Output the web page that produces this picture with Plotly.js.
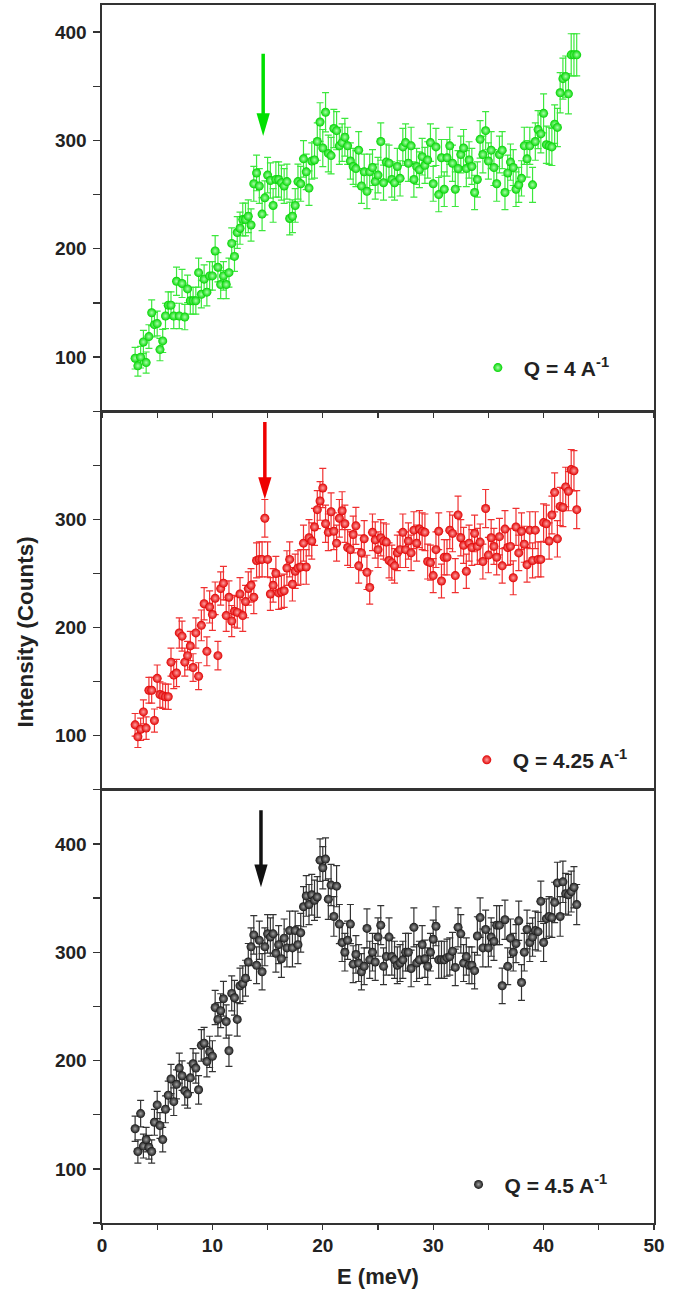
<!DOCTYPE html>
<html>
<head>
<meta charset="utf-8">
<script src="https://cdn.plot.ly/plotly-3.0.1.min.js"></script>
<style>html,body{margin:0;padding:0;background:#fff;}#chart{width:684px;height:1292px;}</style>
</head>
<body>
<div id="chart"></div>
<script>
// Energy transfer (meV)
const energy = [3,3.25,3.5,3.75,4,4.25,4.5,4.75,5,5.25,5.5,5.75,6,6.25,6.5,6.75,7,7.25,7.5,7.75,8,8.25,8.5,8.75,9,9.25,9.5,9.75,10,10.25,10.5,10.75,11,11.25,11.5,11.75,12,12.25,12.5,12.75,13,13.25,13.5,13.75,14,14.25,14.5,14.75,15,15.25,15.5,15.75,16,16.25,16.5,16.75,17,17.25,17.5,17.75,18,18.25,18.5,18.75,19,19.25,19.5,19.75,20,20.25,20.5,20.75,21,21.25,21.5,21.75,22,22.25,22.5,22.75,23,23.25,23.5,23.75,24,24.25,24.5,24.75,25,25.25,25.5,25.75,26,26.25,26.5,26.75,27,27.25,27.5,27.75,28,28.25,28.5,28.75,29,29.25,29.5,29.75,30,30.25,30.5,30.75,31,31.25,31.5,31.75,32,32.25,32.5,32.75,33,33.25,33.5,33.75,34,34.25,34.5,34.75,35,35.25,35.5,35.75,36,36.25,36.5,36.75,37,37.25,37.5,37.75,38,38.25,38.5,38.75,39,39.25,39.5,39.75,40,40.25,40.5,40.75,41,41.25,41.5,41.75,42,42.25,42.5,42.75,43];

// Intensity (Counts), Q = 4 A^-1
const intensityQ4 = [99,92,100,114,95,119,141,130,131,107,
115,138,148,148,138,170,138,168,137,163,
152,152,152,178,158,172,160,175,175,198,
183,167,175,167,178,205,193,215,219,227,
227,230,222,260,270,258,232,247,268,263,
240,264,264,261,258,262,228,230,240,262,
260,283,271,256,281,282,299,317,293,326,
288,286,311,309,295,298,303,295,281,276,
274,291,258,271,253,271,275,262,268,299,
261,280,279,264,261,276,265,294,298,279,
295,264,276,273,285,277,282,298,260,294,
250,284,255,284,295,279,255,274,287,293,
274,282,276,252,264,301,287,309,281,291,
275,260,287,291,252,270,280,275,255,259,
265,295,283,295,259,299,310,306,325,296,
295,294,315,312,344,357,359,343,379,379,379];

// Intensity (Counts), Q = 4.25 A^-1
const intensityQ425 = [110,99,106,122,107,142,142,114,153,138,
137,136,136,168,156,158,195,192,168,174,
183,163,195,155,202,222,178,219,212,227,
174,236,241,211,228,206,215,214,231,211,
224,236,239,228,262,263,263,301,263,231,
239,250,232,233,234,255,263,240,252,255,
256,278,256,283,280,293,309,317,329,296,
288,307,289,278,301,308,296,274,272,286,
294,257,269,282,251,237,288,281,272,283,
280,279,262,260,257,269,272,288,272,280,
269,290,278,291,289,288,261,260,248,272,
289,243,265,265,290,287,248,304,283,276,
252,278,274,287,275,279,261,310,267,283,
275,265,284,257,291,274,275,246,293,269,
289,277,258,290,262,290,263,263,297,296,
280,304,325,282,312,311,330,326,346,345,309];

// Intensity (Counts), Q = 4.5 A^-1
const intensityQ45 = [137,116,151,121,127,120,116,143,159,140,
127,155,168,183,162,178,193,186,172,169,
184,197,193,173,214,216,199,208,204,249,
238,246,257,236,209,262,258,238,269,271,
276,291,305,316,288,311,282,305,317,314,
317,299,307,294,313,304,320,304,320,307,
318,342,352,344,353,348,351,385,378,386,
349,362,333,361,326,309,300,311,326,289,
298,290,282,287,322,293,300,291,314,325,
287,296,314,296,293,288,290,293,300,300,
285,323,290,293,307,294,287,300,312,324,
293,293,293,295,296,301,286,323,317,290,
296,288,288,283,315,332,304,321,304,314,
310,325,325,269,330,287,313,300,308,329,
272,300,321,309,314,320,319,347,309,331,
333,332,346,364,333,365,354,353,356,360,344];

const seriesNames = ['Q = 4 A<sup>-1</sup>', 'Q = 4.25 A<sup>-1</sup>', 'Q = 4.5 A<sup>-1</sup>'];

const FONT = 'Liberation Sans, Arial, Helvetica, sans-serif';
const LINE = '#333333';

function mk(y, name, xa, ya, leg, col, center, errCol) {
  return {
    type: 'scatter', mode: 'markers', x: energy, y: y, name: name,
    xaxis: xa, yaxis: ya, legend: leg, showlegend: true,
    marker: {size: 9, color: col, gradient: {type: 'radial', color: center}},
    error_y: {type: 'sqrt', visible: true, color: errCol, thickness: 1.2, width: 3.5}
  };
}

const traces = [
  mk(intensityQ4, seriesNames[0], 'x3', 'y3', 'legend', '#00d400', '#a8ffa8', '#3de83d'),
  mk(intensityQ425, seriesNames[1], 'x2', 'y2', 'legend2', '#e00000', '#ffa0a0', '#f03030'),
  mk(intensityQ45, seriesNames[2], 'x', 'y', 'legend3', '#151515', '#a0a0a0', '#333333')
];

const tickFont = {family: FONT, size: 19, color: '#222', weight: 'bold'};
const legFont = {family: FONT, size: 21, weight: 'bold', color: '#222'};

function yax(domain, range) {
  return {
    domain: domain, range: range, showline: true, linecolor: LINE, linewidth: 1.6, mirror: true,
    ticks: 'outside', ticklen: 7, tickwidth: 1.4, tickcolor: LINE, dtick: 100, tick0: 0,
    minor: {dtick: 50, ticks: 'outside', ticklen: 7, tickwidth: 1.4, tickcolor: LINE, showgrid: false},
    showgrid: false, zeroline: false, tickfont: tickFont, ticklabelstandoff: 3
  };
}
function xax(anchor, showLabels, ticks) {
  return {
    anchor: anchor, range: [0, 50], showline: true, linecolor: LINE, linewidth: 1.6, mirror: true,
    ticks: ticks, ticklen: 5, tickwidth: 1.4, tickcolor: LINE, dtick: 10, tick0: 0,
    minor: {dtick: 5, ticks: ticks, ticklen: 5, tickwidth: 1.4, tickcolor: LINE, showgrid: false},
    showgrid: false, zeroline: false, showticklabels: showLabels, tickfont: tickFont
  };
}

function leg(x, y) {
  return {x: x, y: y, xanchor: 'left', yanchor: 'middle', bgcolor: 'rgba(0,0,0,0)', itemwidth: 42, font: legFont};
}

const layout = {
  width: 684, height: 1292,
  margin: {l: 102, r: 30, t: 5, b: 69},
  paper_bgcolor: '#fff', plot_bgcolor: '#fff',
  font: {family: FONT, color: '#222'},
  showlegend: true,
  xaxis: Object.assign(xax('y', true, 'outside'), {title: {text: 'E (meV)', font: {family: FONT, size: 22, weight: 'bold', color: '#222'}, standoff: 13}}),
  xaxis2: xax('y2', false, ''),
  xaxis3: xax('y3', false, 'outside'),
  yaxis: yax([0, 0.3557], [50, 450]),
  yaxis2: yax([0.3557, 0.6664], [50, 399.9]),
  yaxis3: yax([0.6664, 1], [50, 425]),
  legend: leg(0.67, 0.702),
  legend2: leg(0.65, 0.380),
  legend3: leg(0.635, 0.0314),
  annotations: [
    {text: 'Intensity (Counts)', xref: 'paper', yref: 'paper', x: -0.139, y: 0.485, showarrow: false, textangle: -90,
     font: {family: FONT, size: 22.5, weight: 'bold', color: '#222'}, xanchor: 'center', yanchor: 'middle'}
  ],
  shapes: [
    // arrows marking the feature near 14.5 meV
    {type: 'line', xref: 'x3', yref: 'y3', x0: 14.6, x1: 14.6, y0: 380, y1: 322, line: {color: '#00e000', width: 3.5}},
    {type: 'path', xref: 'x3', yref: 'y3', path: 'M 14.0 325 L 15.2 325 L 14.6 304 Z', fillcolor: '#00e000', line: {width: 0}},
    {type: 'line', xref: 'x2', yref: 'y2', x0: 14.75, x1: 14.75, y0: 390, y1: 336, line: {color: '#ee0000', width: 3.5}},
    {type: 'path', xref: 'x2', yref: 'y2', path: 'M 14.15 339 L 15.35 339 L 14.75 318.5 Z', fillcolor: '#ee0000', line: {width: 0}},
    {type: 'line', xref: 'x', yref: 'y', x0: 14.4, x1: 14.4, y0: 431, y1: 378, line: {color: '#111', width: 3.5}},
    {type: 'path', xref: 'x', yref: 'y', path: 'M 13.8 381 L 15.0 381 L 14.4 360 Z', fillcolor: '#111', line: {width: 0}}
  ]
};

Plotly.newPlot('chart', traces, layout, {displayModeBar: false, staticPlot: true});
</script>
</body>
</html>
